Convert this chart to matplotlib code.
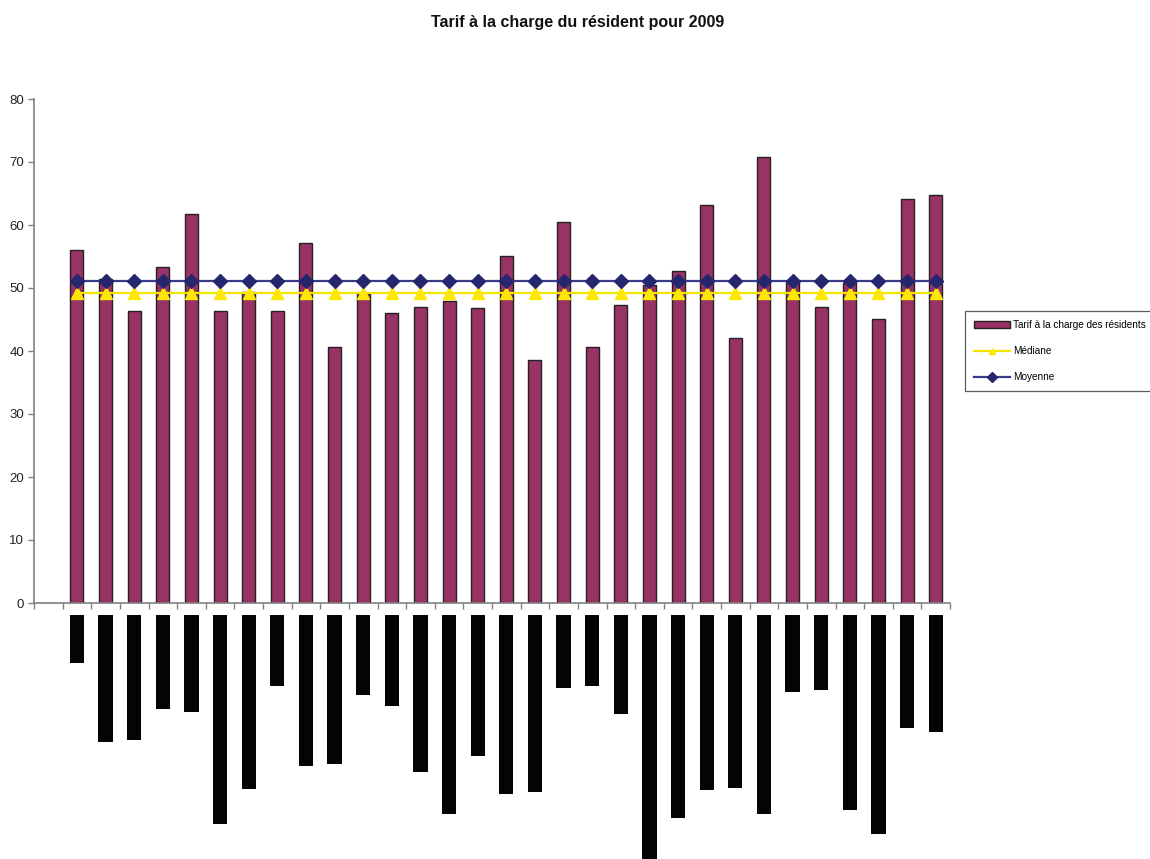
import matplotlib
matplotlib.use("Agg")
import matplotlib.pyplot as plt
import numpy as np

# ---- data ----
# first category slot is empty in the reference
tarifs = [np.nan, 56.0, 51.5, 46.4, 53.4, 61.7, 46.4, 49.3, 46.4, 57.2, 40.7,
          49.0, 46.1, 47.0, 48.0, 46.8, 55.0, 38.5, 60.4, 40.7, 47.3,
          50.5, 52.7, 63.2, 42.0, 70.8, 51.0, 47.0, 50.8, 45.1, 64.1, 64.8]
median_value = 49.2
mean_value = 51.1
# redacted category labels (black boxes), length in pixels
redacted_label_lengths = [0, 48, 127, 125, 94, 97, 209, 174, 71, 151, 149,
                          80, 91, 157, 199, 141, 179, 177, 73, 71, 99,
                          244, 203, 175, 173, 199, 77, 75, 195, 219, 113, 117]
yticks = [0, 10, 20, 30, 40, 50, 60, 70, 80]
legend_labels = ["Tarif à la charge des résidents", "Médiane", "Moyenne"]
title = "Tarif à la charge du résident pour 2009"

n = len(tarifs)
x = np.arange(n)
valid = ~np.isnan(np.array(tarifs))
median_series = np.where(valid, median_value, np.nan)
mean_series = np.where(valid, mean_value, np.nan)

W, H = 1150, 859
fig = plt.figure(figsize=(W / 100, H / 100), dpi=100)
fig.patch.set_facecolor("white")
plt.rcParams["font.family"] = ["Liberation Sans", "DejaVu Sans"]

left, right = 34, 950
ax = fig.add_axes([left / W, (H - 603) / H, (right - left) / W, (603 - 99) / H])
b = ax.bar(x, tarifs, width=0.45, color="#993366", edgecolor="#222222", linewidth=1.0,
           zorder=2)
l1, = ax.plot(x, median_series, color="#F2E600", linewidth=1.6, marker="^", markersize=8,
              markerfacecolor="#FFE800", markeredgecolor="#FFE800", zorder=3)
l2, = ax.plot(x, mean_series, color="#3A3A8C", linewidth=1.6, marker="D", markersize=7,
              markerfacecolor="#26266E", markeredgecolor="#26266E", zorder=4)

ax.set_xlim(-0.5, n - 0.5)
ax.set_ylim(0, 80)
ax.set_yticks(yticks)
ax.set_yticklabels([str(t) for t in yticks], fontsize=9.5, color="#222222")
ax.set_xticks(np.arange(n + 1) - 0.5)
ax.set_xticklabels([])
ax.tick_params(axis="x", direction="out", length=4, color="#808080", width=1)
ax.tick_params(axis="y", direction="out", length=4, color="#808080", width=1, pad=3)
for s in ["top", "right"]:
    ax.spines[s].set_visible(False)
for s in ["left", "bottom"]:
    ax.spines[s].set_color("#808080")
    ax.spines[s].set_linewidth(1.2)

fig.text(578 / W, 1 - 22 / H, title, ha="center", va="center", fontsize=11.5,
         fontweight="bold", color="#111111")

leg = ax.legend([b, l1, l2], legend_labels,
                loc="upper left", bbox_to_anchor=(965 / W, 1 - 311 / H),
                bbox_transform=fig.transFigure, frameon=True, fancybox=False,
                fontsize=7.2, handlelength=3.6, handletextpad=0.3, borderpad=0.9,
                labelspacing=1.6, borderaxespad=0, handleheight=0.7)
leg.get_frame().set_edgecolor("#333333")
leg.get_frame().set_linewidth(0.9)
for h in leg.legend_handles:
    try:
        h.set_markersize(5)
    except Exception:
        pass

# redacted label boxes under the axis
lab = fig.add_axes([left / W, 0, (right - left) / W, (H - 603) / H])
lab.set_xlim(-0.5, n - 0.5)
lab.set_ylim(H - 603, 0)
lab.bar(x, redacted_label_lengths, bottom=12, width=0.5, color="#030505")
lab.axis("off")

fig.savefig("out.png", dpi=100, facecolor="white")
